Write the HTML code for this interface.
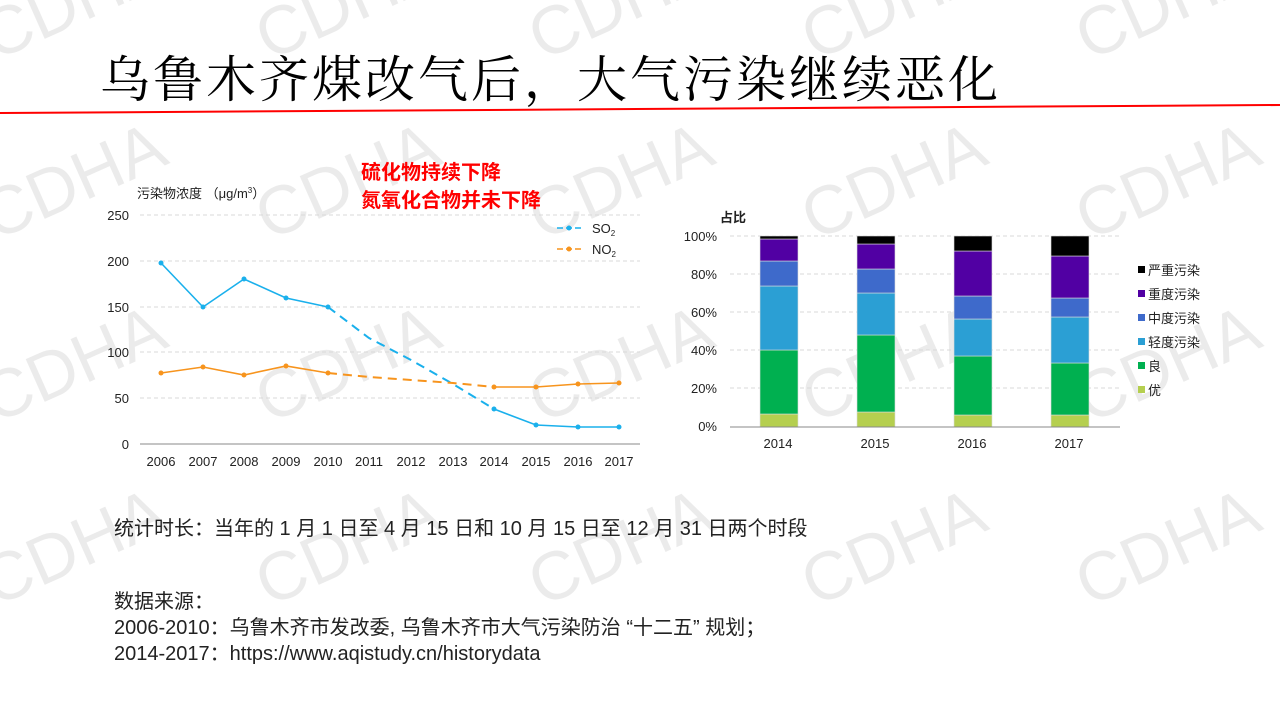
<!DOCTYPE html>
<html style="margin:0;width:1280px;height:720px;overflow:hidden"><head><meta charset="utf-8"><style>
body{margin:0;width:1280px;height:720px;overflow:hidden;background:#fff;position:relative;font-family:"Liberation Sans","Noto Sans CJK SC",sans-serif}
.t{position:absolute;white-space:nowrap}
</style></head><body>
<svg style="position:absolute;left:0;top:0" width="1280" height="720">
<g font-family="Liberation Sans,sans-serif" font-size="68" fill="rgba(0,0,0,0.08)" text-anchor="middle">
<g transform="translate(73,0) rotate(-24)"><text y="24">CDHA</text></g>
<g transform="translate(347,0) rotate(-24)"><text y="24">CDHA</text></g>
<g transform="translate(620,0) rotate(-24)"><text y="24">CDHA</text></g>
<g transform="translate(893,0) rotate(-24)"><text y="24">CDHA</text></g>
<g transform="translate(1167,0) rotate(-24)"><text y="24">CDHA</text></g>
<g transform="translate(73,180) rotate(-24)"><text y="24">CDHA</text></g>
<g transform="translate(347,180) rotate(-24)"><text y="24">CDHA</text></g>
<g transform="translate(620,180) rotate(-24)"><text y="24">CDHA</text></g>
<g transform="translate(893,180) rotate(-24)"><text y="24">CDHA</text></g>
<g transform="translate(1167,180) rotate(-24)"><text y="24">CDHA</text></g>
<g transform="translate(73,363) rotate(-24)"><text y="24">CDHA</text></g>
<g transform="translate(347,363) rotate(-24)"><text y="24">CDHA</text></g>
<g transform="translate(620,363) rotate(-24)"><text y="24">CDHA</text></g>
<g transform="translate(893,363) rotate(-24)"><text y="24">CDHA</text></g>
<g transform="translate(1167,363) rotate(-24)"><text y="24">CDHA</text></g>
<g transform="translate(73,546) rotate(-24)"><text y="24">CDHA</text></g>
<g transform="translate(347,546) rotate(-24)"><text y="24">CDHA</text></g>
<g transform="translate(620,546) rotate(-24)"><text y="24">CDHA</text></g>
<g transform="translate(893,546) rotate(-24)"><text y="24">CDHA</text></g>
<g transform="translate(1167,546) rotate(-24)"><text y="24">CDHA</text></g>
</g>
</svg>

<div class="t" style="left:100px;top:40px;font:50px 'Noto Serif CJK SC',serif;letter-spacing:3px;color:#000">乌鲁木齐煤改气后，大气污染继续恶化</div>
<svg style="position:absolute;left:0;top:0" width="1280" height="720">
<line x1="0" y1="113" x2="1280" y2="105" stroke="#f00" stroke-width="2"/>
<g font-family="Liberation Sans,sans-serif" font-size="13" fill="#222">
<g stroke="#d9d9d9" stroke-dasharray="4,3"><line x1="140" y1="215" x2="640" y2="215"/><line x1="140" y1="261" x2="640" y2="261"/><line x1="140" y1="307" x2="640" y2="307"/><line x1="140" y1="352" x2="640" y2="352"/><line x1="140" y1="398" x2="640" y2="398"/></g>
<line x1="140" y1="444" x2="640" y2="444" stroke="#888"/>
<g text-anchor="end"><text x="129" y="220">250</text><text x="129" y="266">200</text><text x="129" y="312">150</text><text x="129" y="357">100</text><text x="129" y="403">50</text><text x="129" y="449">0</text></g>
<g text-anchor="middle"><text x="161" y="466">2006</text><text x="203" y="466">2007</text><text x="244" y="466">2008</text><text x="286" y="466">2009</text><text x="328" y="466">2010</text><text x="369" y="466">2011</text><text x="411" y="466">2012</text><text x="453" y="466">2013</text><text x="494" y="466">2014</text><text x="536" y="466">2015</text><text x="578" y="466">2016</text><text x="619" y="466">2017</text></g>
<polyline points="161,263 203,307 244,279 286,298 328,307" fill="none" stroke="#1ab0ec" stroke-width="1.6"/>
<polyline points="328,307 369,338 411,360 453,384 494,409" fill="none" stroke="#1ab0ec" stroke-width="2" stroke-dasharray="9,6"/>
<polyline points="494,409 536,425 578,427 619,427" fill="none" stroke="#1ab0ec" stroke-width="1.6"/>
<g fill="#1ab0ec"><circle cx="161" cy="263" r="2.5"/><circle cx="203" cy="307" r="2.5"/><circle cx="244" cy="279" r="2.5"/><circle cx="286" cy="298" r="2.5"/><circle cx="328" cy="307" r="2.5"/><circle cx="494" cy="409" r="2.5"/><circle cx="536" cy="425" r="2.5"/><circle cx="578" cy="427" r="2.5"/><circle cx="619" cy="427" r="2.5"/></g>
<polyline points="161,373 203,367 244,375 286,366 328,373" fill="none" stroke="#f7941d" stroke-width="1.6"/>
<polyline points="328,373 369,377 411,380 453,383 494,387" fill="none" stroke="#f7941d" stroke-width="2" stroke-dasharray="9,6"/>
<polyline points="494,387 536,387 578,384 619,383" fill="none" stroke="#f7941d" stroke-width="1.6"/>
<g fill="#f7941d"><circle cx="161" cy="373" r="2.5"/><circle cx="203" cy="367" r="2.5"/><circle cx="244" cy="375" r="2.5"/><circle cx="286" cy="366" r="2.5"/><circle cx="328" cy="373" r="2.5"/><circle cx="494" cy="387" r="2.5"/><circle cx="536" cy="387" r="2.5"/><circle cx="578" cy="384" r="2.5"/><circle cx="619" cy="383" r="2.5"/></g>
<line x1="557" y1="228" x2="581" y2="228" stroke="#1ab0ec" stroke-width="1.5" stroke-dasharray="6,3"/><circle cx="569" cy="228" r="2.5" fill="#1ab0ec"/>
<line x1="557" y1="249" x2="581" y2="249" stroke="#f7941d" stroke-width="1.5" stroke-dasharray="6,3"/><circle cx="569" cy="249" r="2.5" fill="#f7941d"/>
<text x="592" y="233">SO<tspan font-size="8" dy="3">2</tspan></text>
<text x="592" y="254">NO<tspan font-size="8" dy="3">2</tspan></text>
<text x="137" y="198" font-family="Liberation Sans,Noto Sans CJK SC,sans-serif">污染物浓度 （μg/m<tspan font-size="8" dy="-5">3</tspan><tspan dy="5">）</tspan></text>

<g stroke="#d9d9d9" stroke-dasharray="4,3"><line x1="730" y1="236" x2="1120" y2="236"/><line x1="730" y1="274" x2="1120" y2="274"/><line x1="730" y1="312" x2="1120" y2="312"/><line x1="730" y1="350" x2="1120" y2="350"/><line x1="730" y1="388" x2="1120" y2="388"/></g>
<g text-anchor="end"><text x="717" y="241">100%</text><text x="717" y="279">80%</text><text x="717" y="317">60%</text><text x="717" y="355">40%</text><text x="717" y="393">20%</text><text x="717" y="431">0%</text></g>
<g text-anchor="middle"><text x="778" y="448">2014</text><text x="875" y="448">2015</text><text x="972" y="448">2016</text><text x="1069" y="448">2017</text></g>
<text x="720" y="222" font-weight="bold" font-family="Liberation Sans,Noto Sans CJK SC,sans-serif">占比</text>
<g stroke="#ddd" stroke-width="0.6">
<rect x="760" y="414" width="38" height="13" fill="#b5cf4f"/><rect x="760" y="350" width="38" height="64" fill="#00b050"/><rect x="760" y="286" width="38" height="64" fill="#2b9fd4"/><rect x="760" y="261" width="38" height="25" fill="#3e6acb"/><rect x="760" y="239" width="38" height="22" fill="#5100a3"/><rect x="760" y="236" width="38" height="3" fill="#000"/>
<rect x="857" y="412" width="38" height="15" fill="#b5cf4f"/><rect x="857" y="335" width="38" height="77" fill="#00b050"/><rect x="857" y="293" width="38" height="42" fill="#2b9fd4"/><rect x="857" y="269" width="38" height="24" fill="#3e6acb"/><rect x="857" y="244" width="38" height="25" fill="#5100a3"/><rect x="857" y="236" width="38" height="8" fill="#000"/>
<rect x="954" y="415" width="38" height="12" fill="#b5cf4f"/><rect x="954" y="356" width="38" height="59" fill="#00b050"/><rect x="954" y="319" width="38" height="37" fill="#2b9fd4"/><rect x="954" y="296" width="38" height="23" fill="#3e6acb"/><rect x="954" y="251" width="38" height="45" fill="#5100a3"/><rect x="954" y="236" width="38" height="15" fill="#000"/>
<rect x="1051" y="415" width="38" height="12" fill="#b5cf4f"/><rect x="1051" y="363" width="38" height="52" fill="#00b050"/><rect x="1051" y="317" width="38" height="46" fill="#2b9fd4"/><rect x="1051" y="298" width="38" height="19" fill="#3e6acb"/><rect x="1051" y="256" width="38" height="42" fill="#5100a3"/><rect x="1051" y="236" width="38" height="20" fill="#000"/>
</g>
<line x1="730" y1="427" x2="1120" y2="427" stroke="#888"/>
<g font-family="Liberation Sans,Noto Sans CJK SC,sans-serif">
<rect x="1138" y="266" width="7" height="7" fill="#000"/><text x="1148" y="275">严重污染</text>
<rect x="1138" y="290" width="7" height="7" fill="#5100a3"/><text x="1148" y="299">重度污染</text>
<rect x="1138" y="314" width="7" height="7" fill="#3e6acb"/><text x="1148" y="323">中度污染</text>
<rect x="1138" y="338" width="7" height="7" fill="#2b9fd4"/><text x="1148" y="347">轻度污染</text>
<rect x="1138" y="362" width="7" height="7" fill="#00b050"/><text x="1148" y="371">良</text>
<rect x="1138" y="386" width="7" height="7" fill="#b5cf4f"/><text x="1148" y="395">优</text>
</g>
</g>
</svg>
<div class="t" style="left:361px;top:157px;font-size:20px;line-height:28px;color:#f00;font-weight:bold;font-family:'Noto Sans CJK SC',sans-serif">硫化物持续下降<br>氮氧化合物并未下降</div>
<div class="t" style="left:114px;top:512px;font-size:20px;color:#222">统计时长：当年的 1 月 1 日至 4 月 15 日和 10 月 15 日至 12 月 31 日两个时段</div>
<div class="t" style="left:114px;top:589px;font-size:20px;line-height:26px;color:#222">数据来源：<br>2006-2010：乌鲁木齐市发改委, 乌鲁木齐市大气污染防治 “十二五” 规划；<br>2014-2017：https://www.aqistudy.cn/historydata</div>
</body></html>
